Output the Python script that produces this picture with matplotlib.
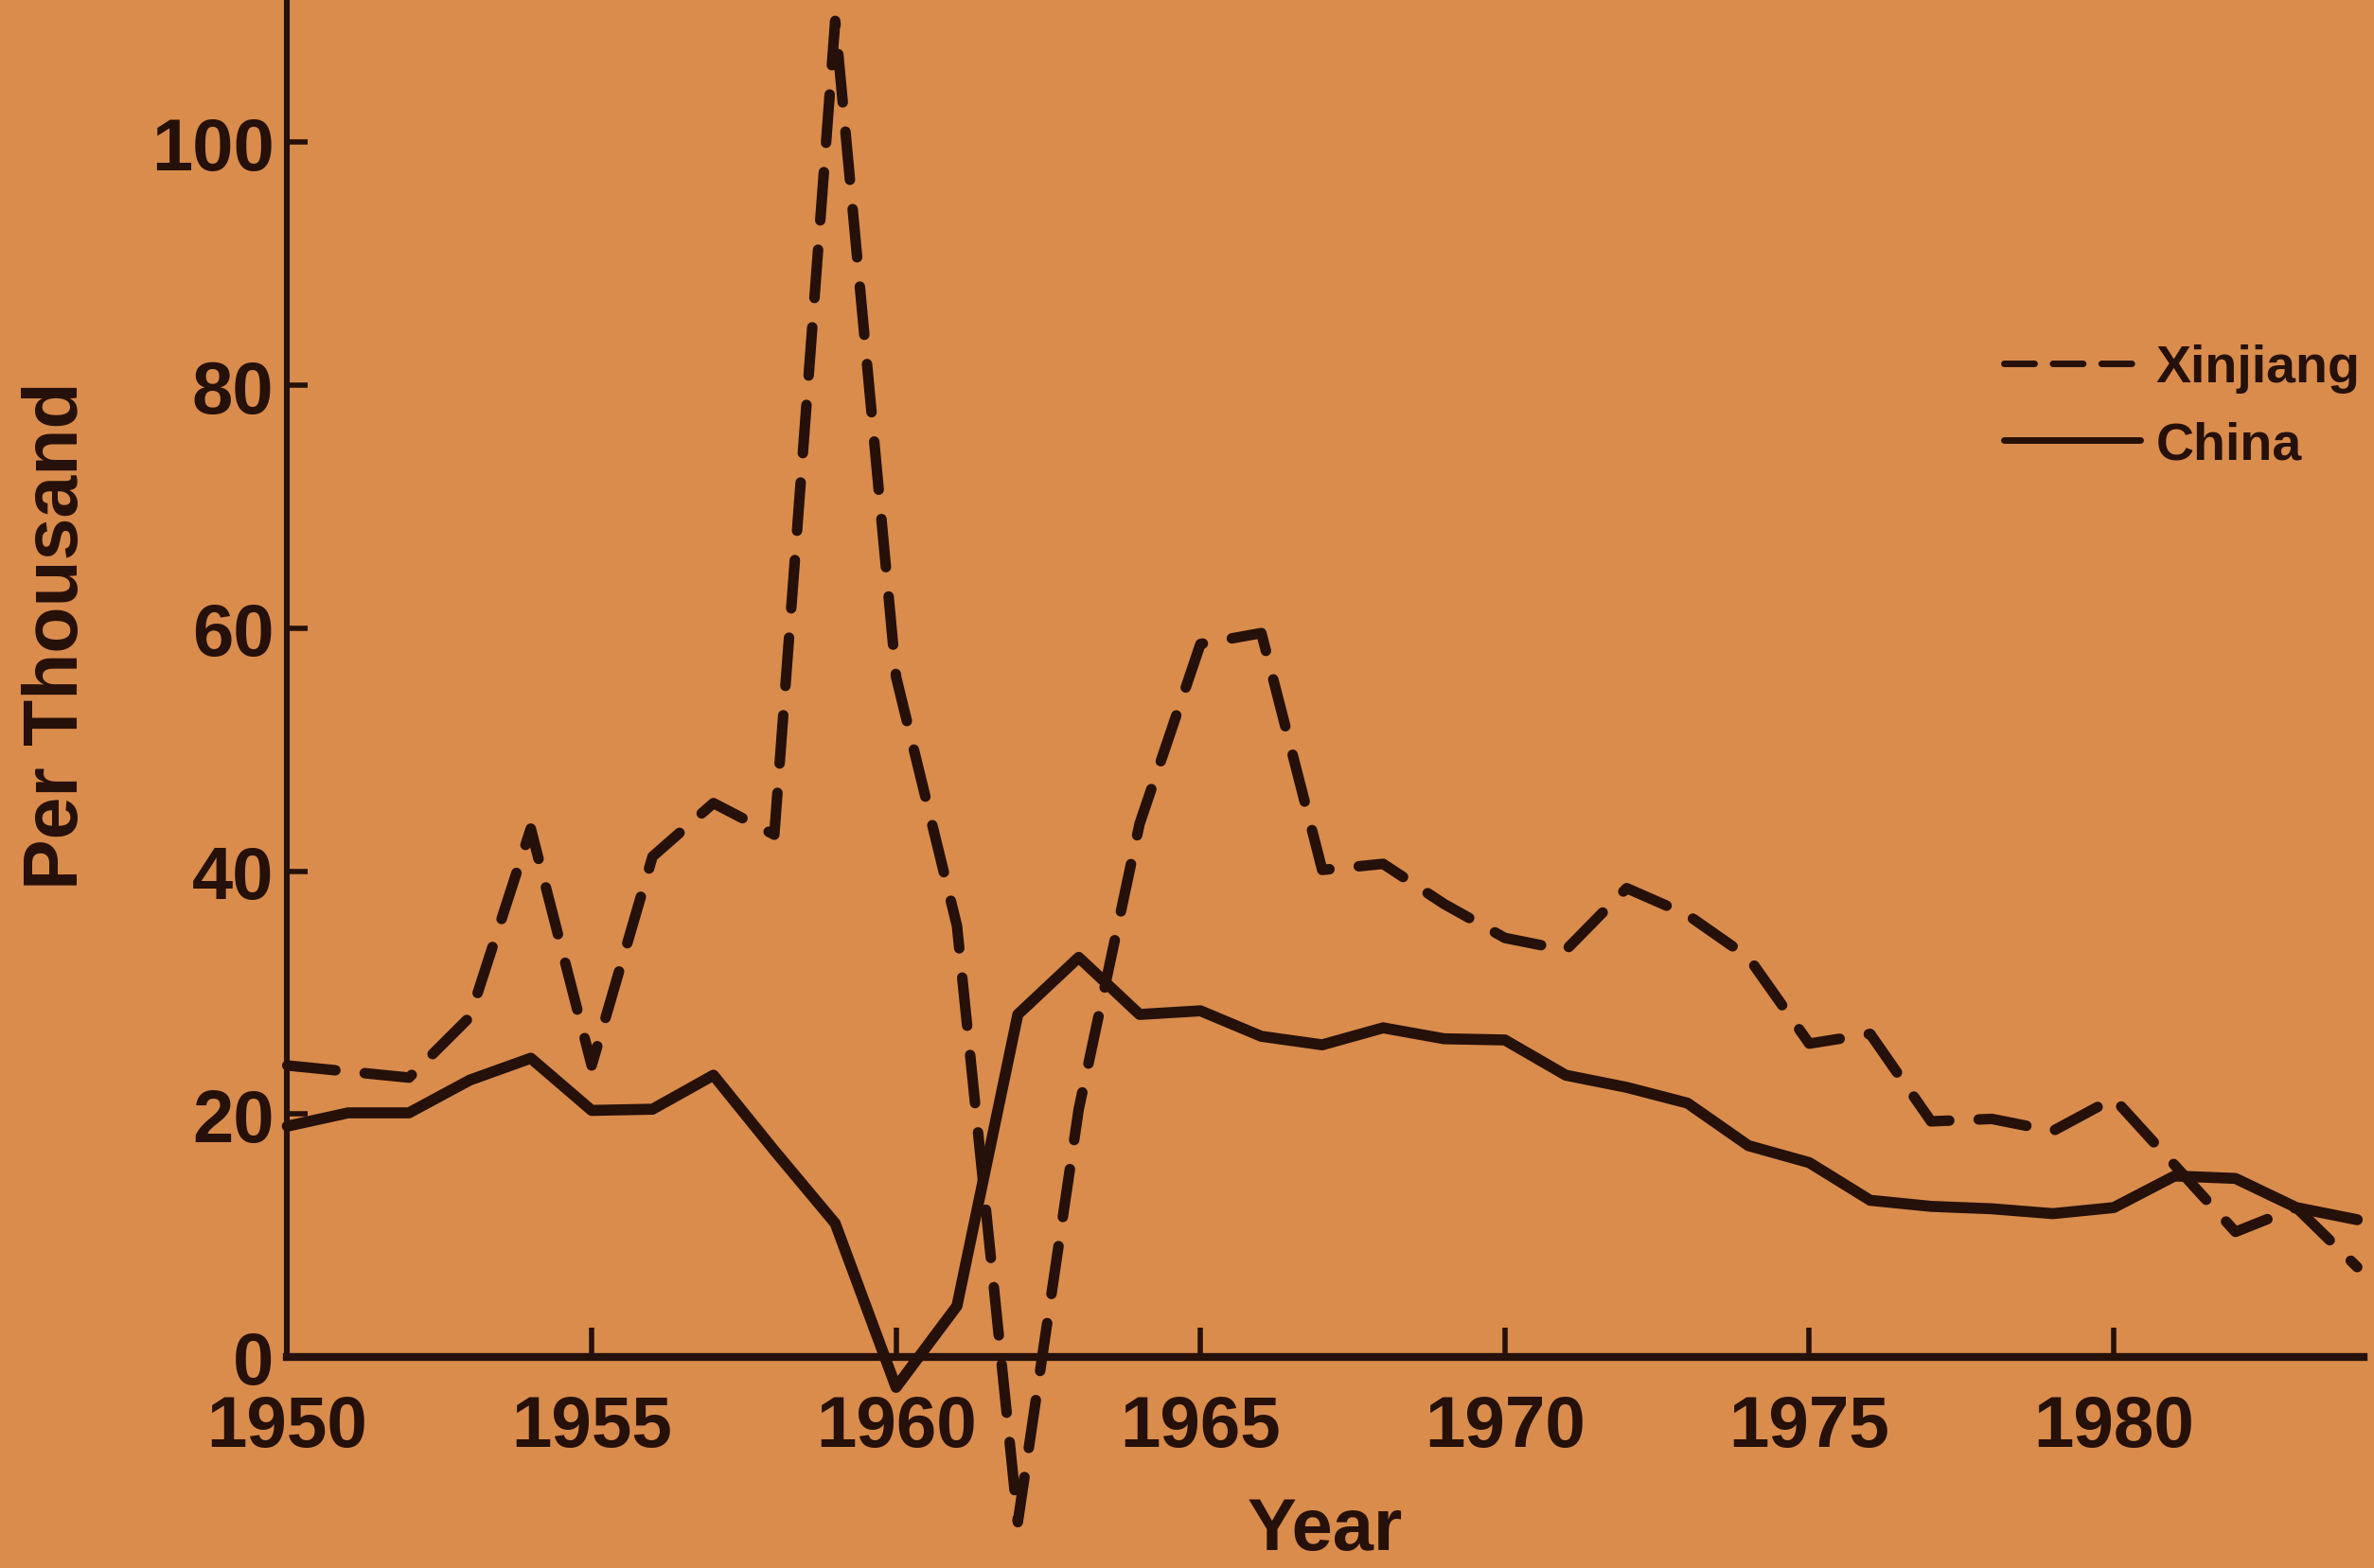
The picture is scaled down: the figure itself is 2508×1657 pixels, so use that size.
import matplotlib.pyplot as plt

# data (per thousand)
years = list(range(1950, 1985))
xinjiang = [24.0, 23.5, 23.0, 28.0, 43.5, 24.0, 41.2, 45.6, 43.0, 110.0,
            56.0, 35.5, -13.6, 20.4, 43.9, 58.7, 59.6, 40.1, 40.6, 37.3,
            34.5, 33.5, 38.6, 36.4, 32.9, 25.8, 26.6, 19.4, 19.6, 18.6,
            21.3, 15.8, 10.3, 12.3, 7.4]
china = [19.0, 20.1, 20.1, 22.8, 24.6, 20.3, 20.4, 23.2, 17.0, 11.0,
         -2.5, 4.2, 28.2, 32.9, 28.2, 28.5, 26.4, 25.7, 27.1, 26.2,
         26.1, 23.2, 22.2, 20.9, 17.4, 16.0, 12.9, 12.4, 12.2, 11.8,
         12.3, 14.9, 14.7, 12.3, 11.3]
xticks = [1950, 1955, 1960, 1965, 1970, 1975, 1980]
yticks = [0, 20, 40, 60, 80, 100]

bg = '#DA8C4C'
ink = '#25100A'
plt.rcParams['font.family'] = ['Liberation Sans', 'DejaVu Sans']

fig = plt.figure(figsize=(12.54, 8.29), dpi=200, facecolor=bg)
ax = fig.add_axes([0.121, 0.1345, 0.8745, 0.8655], facecolor=bg)

ax.plot(years, xinjiang, color=ink, lw=4, ls=(0, (4.6, 2.8)),
        dash_capstyle='round', clip_on=False, label='Xinjiang')
ax.plot(years, china, color=ink, lw=4.2, solid_capstyle='round',
        solid_joinstyle='round', clip_on=False, label='China')

ax.set_xlim(1950, 1984.1)
ax.set_ylim(0, 111.8)
for s in ['top', 'right']:
    ax.spines[s].set_visible(False)
ax.spines['left'].set_linewidth(2.2)
ax.spines['bottom'].set_linewidth(3)
ax.spines['left'].set_color(ink)
ax.spines['bottom'].set_color(ink)

ax.set_xticks(xticks)
ax.set_yticks(yticks)
ax.tick_params(axis='x', direction='in', length=11, width=2, color=ink,
               pad=14, labelsize=27.5, labelcolor=ink)
ax.tick_params(axis='y', direction='in', length=8, width=2, color=ink,
               pad=5, labelsize=28, labelcolor=ink)
for lab in ax.get_xticklabels() + ax.get_yticklabels():
    lab.set_fontweight('bold')

ax.set_xlabel('Year', fontsize=28, fontweight='bold', color=ink)
ax.xaxis.set_label_coords(0.5, -0.102)
ax.set_ylabel('Per Thousand', fontsize=29, fontweight='bold', color=ink)
ax.yaxis.set_label_coords(-0.093, 0.532)

leg = ax.legend(loc='upper left', bbox_to_anchor=(0.8268, 0.746),
                frameon=False, borderpad=0, borderaxespad=0,
                handlelength=2.6, handletextpad=0.3, labelspacing=0.52,
                prop={'size': 20, 'weight': 'bold'})
for t in leg.get_texts():
    t.set_color(ink)
for h in leg.get_lines():
    h.set_linewidth(2.5)

plt.savefig('out.png', dpi=200, facecolor=bg)
